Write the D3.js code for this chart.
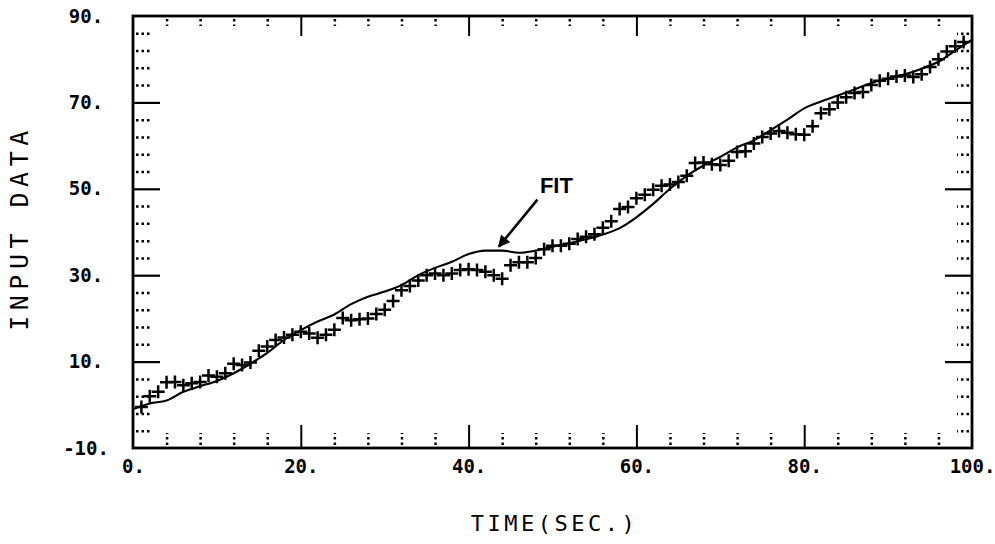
<!DOCTYPE html>
<html><head><meta charset="utf-8">
<script src="https://cdn.jsdelivr.net/npm/d3@7"></script>
<style>html,body{margin:0;padding:0;background:#fff;} svg{display:block;}</style>
</head><body><svg id="chart" width="995" height="544"></svg>
<script>
const sampleTimes = [1,2,3,4,5,6,7,8,9,10,11,12,13,14,15,16,17,18,19,20,21,22,23,24,25,26,27,28,29,30,31,32,33,34,35,36,37,38,39,40,41,42,43,44,45,46,47,48,49,50,51,52,53,54,55,56,57,58,59,60,61,62,63,64,65,66,67,68,69,70,71,72,73,74,75,76,77,78,79,80,81,82,83,84,85,86,87,88,89,90,91,92,93,94,95,96,97,98,99];
const inputData = [-0.5,2.0,3.0,5.2,5.3,4.5,5.0,5.3,6.8,6.5,
  7.3,9.5,9.2,9.8,12.5,13.5,15.0,15.6,16.2,16.9,
  16.5,15.5,16.2,17.4,20.1,19.6,19.8,20.0,21.0,22.0,
  24.0,26.5,27.5,28.8,30.0,30.4,30.0,30.4,31.2,31.4,
  31.2,30.8,30.0,29.2,32.3,33.0,33.0,34.0,36.0,36.8,
  36.8,37.3,38.4,38.9,39.5,41.0,42.5,45.3,45.8,47.8,
  48.6,49.8,50.7,51.0,51.6,53.0,56.0,56.1,55.7,55.5,
  56.5,58.5,58.7,60.5,62.0,62.8,63.4,63.0,62.6,62.5,
  64.5,67.5,68.4,70.0,71.2,72.2,72.4,74.0,75.0,75.5,
  76.0,76.2,75.9,76.5,78.2,80.0,81.8,83.0,84.0];
const fitTimes = [0,2,4,6,8,10,12,14,16,18,20,22,24,26,28,30,32,34,36,38,40,42,44,46,48,50,52,54,56,58,60,62,64,66,68,70,72,74,76,78,80,82,84,86,88,90,92,94,96,98,100];
const fitValues = [-1.0,0.3,1.0,3.0,4.3,5.5,7.3,9.5,12.0,15.0,17.3,19.3,20.9,23.3,25.0,26.2,27.7,30.0,31.7,33.1,34.9,35.7,35.7,35.2,35.7,36.6,37.4,38.3,39.4,40.9,43.4,46.5,50.0,53.0,55.4,57.4,59.6,61.2,63.6,66.0,68.6,70.2,71.6,73.0,74.5,75.6,76.5,77.8,79.4,82.0,84.5];
const xTickLabels = [0,20,40,60,80,100];
const yTickLabels = [-10,10,30,50,70,90];
const xMajorTicks = [20,40,60,80];
const yMajorTicks = [10,30,50,70];
const xMinorTicks = [4,8,12,16,24,28,32,36,44,48,52,56,64,68,72,76,84,88,92,96];
const yMinorTicks = [-6,-2,2,6,14,18,22,26,34,38,42,46,54,58,62,66,74,78,82,86];
const xTitle = "TIME(SEC.)";
const yTitle = "INPUT DATA";
const fitLabel = "FIT";
const fitArrowTip = [43.6, 36.6];
const fitArrowTail = [48.2, 47.5];
const fitLabelAt = [48.5, 49.0];

const svg = d3.select("#chart");
const L = 133, R = 972, T = 16, B = 448;
const x = d3.scaleLinear().domain([0,100]).range([L,R]);
const y = d3.scaleLinear().domain([-10,90]).range([B,T]);
const mono = "'DejaVu Sans Mono', 'Liberation Mono', monospace";

function styleTicks(g, w, dash, off){
  g.select(".domain").remove();
  g.selectAll(".tick line").attr("stroke","#000").attr("stroke-width",w)
    .attr("stroke-dasharray", dash || null).attr("stroke-dashoffset", off || null);
}

// major ticks
svg.append("g").attr("transform",`translate(0,${B})`)
  .call(d3.axisBottom(x).tickValues(xMajorTicks).tickSize(-23).tickFormat(""))
  .call(g=>styleTicks(g,2));
svg.append("g").attr("transform",`translate(0,${T})`)
  .call(d3.axisTop(x).tickValues(xMajorTicks).tickSize(-20).tickFormat(""))
  .call(g=>styleTicks(g,2));
svg.append("g").attr("transform",`translate(${L},0)`)
  .call(d3.axisLeft(y).tickValues(yMajorTicks).tickSize(-27).tickFormat(""))
  .call(g=>styleTicks(g,2.2));
svg.append("g").attr("transform",`translate(${R},0)`)
  .call(d3.axisRight(y).tickValues(yMajorTicks).tickSize(-27).tickFormat(""))
  .call(g=>styleTicks(g,2.2));
// minor dotted ticks
svg.append("g").attr("transform",`translate(0,${B})`)
  .call(d3.axisBottom(x).tickValues(xMinorTicks).tickSize(-15).tickFormat(""))
  .call(g=>styleTicks(g,2.5,"2.5,3",2.5));
svg.append("g").attr("transform",`translate(0,${T})`)
  .call(d3.axisTop(x).tickValues(xMinorTicks).tickSize(-10).tickFormat(""))
  .call(g=>styleTicks(g,2.5,"2.5,3",2.5));
svg.append("g").attr("transform",`translate(${L},0)`)
  .call(d3.axisLeft(y).tickValues(yMinorTicks).tickSize(-17).tickFormat(""))
  .call(g=>styleTicks(g,2.5,"2.5,3",2.5));
svg.append("g").attr("transform",`translate(${R},0)`)
  .call(d3.axisRight(y).tickValues(yMinorTicks).tickSize(-15).tickFormat(""))
  .call(g=>styleTicks(g,2.5,"2.5,3",2.5));

// frame
svg.append("rect").attr("x",L).attr("y",T).attr("width",R-L).attr("height",B-T)
  .attr("fill","none").attr("stroke","#000").attr("stroke-width",2.8);

// tick labels
svg.append("g").attr("transform",`translate(0,${B})`)
  .call(d3.axisBottom(x).tickValues(xTickLabels).tickSize(0).tickPadding(12).tickFormat(d=>d+"."))
  .call(g=>{g.select(".domain").remove();
    g.selectAll("text").attr("font-family",mono).attr("font-weight","bold").attr("font-size",19).attr("fill","#000");});
svg.append("g").attr("transform",`translate(${L},0)`)
  .call(d3.axisLeft(y).tickValues(yTickLabels).tickSize(0).tickPadding(47).tickFormat(d=>d+"."))
  .call(g=>{g.select(".domain").remove();
    g.selectAll("text").attr("text-anchor","middle").attr("font-family",mono).attr("font-weight","bold").attr("font-size",19).attr("fill","#000");});

// axis titles
svg.append("text").attr("x",(L+R)/2+2).attr("y",531).attr("text-anchor","middle")
  .attr("font-family",mono).attr("font-size",22).attr("letter-spacing",3.5)
  .attr("fill","#000").text(xTitle);
svg.append("text").attr("transform",`translate(28,${(T+B)/2-4}) rotate(-90)`)
  .attr("text-anchor","middle").attr("font-family",mono).attr("font-size",25)
  .attr("letter-spacing",5.5).attr("fill","#000").text(yTitle);

// fit line
const line = d3.line().x(d=>x(d[0])).y(d=>y(d[1])).curve(d3.curveMonotoneX);
svg.append("path").datum(fitTimes.map((t,i)=>[t,fitValues[i]]))
  .attr("d",line).attr("fill","none").attr("stroke","#000").attr("stroke-width",2.1);

// data crosses
svg.append("g").selectAll("path").data(sampleTimes.map((t,i)=>[t,inputData[i]]))
  .join("path")
  .attr("transform",d=>`translate(${x(d[0])},${y(d[1])})`)
  .attr("d","M-6.5,0H6.5M0,-6.5V6.5")
  .attr("fill","none").attr("stroke","#000").attr("stroke-width",2.5);

// annotation
svg.append("defs").append("marker").attr("id","ah").attr("viewBox","0 0 10 10")
  .attr("refX",9).attr("refY",5).attr("markerWidth",16).attr("markerHeight",12)
  .attr("markerUnits","userSpaceOnUse").attr("orient","auto")
  .append("path").attr("d","M0,0L10,5L0,10Z").attr("fill","#000");
svg.append("line")
  .attr("x1",x(fitArrowTail[0])).attr("y1",y(fitArrowTail[1]))
  .attr("x2",x(fitArrowTip[0])).attr("y2",y(fitArrowTip[1]))
  .attr("stroke","#000").attr("stroke-width",2.6).attr("marker-end","url(#ah)");
svg.append("text").attr("x",x(fitLabelAt[0])).attr("y",y(fitLabelAt[1]))
  .attr("font-family","'Liberation Sans', Arial, sans-serif").attr("font-weight","bold")
  .attr("font-size",22).attr("fill","#000").text(fitLabel);
</script></body></html>
